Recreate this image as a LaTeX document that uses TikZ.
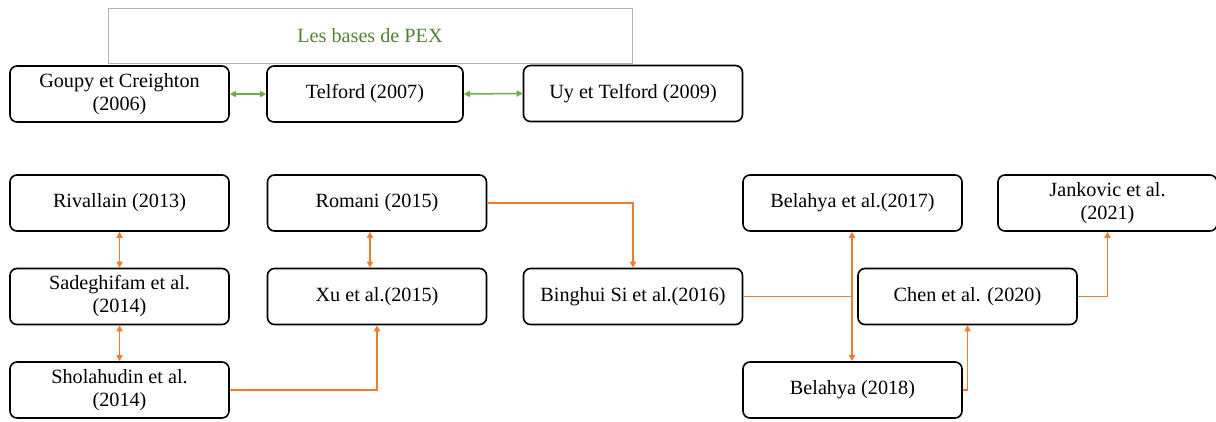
\documentclass[tikz,border=0pt]{standalone}
\usepackage{fontspec}
\setmainfont{Liberation Serif}
\usetikzlibrary{arrows.meta}
\definecolor{linkorange}{RGB}{237,125,49}
\definecolor{linkgreen}{RGB}{112,173,71}
\definecolor{titlegreen}{RGB}{84,130,53}
\begin{document}
\begin{tikzpicture}[x=1pt,y=-1pt,
  >={Triangle[width=6pt,length=6pt]},
  box/.style={draw=black, line width=1.6pt, rounded corners=7pt, fill=white,
    inner sep=0pt, align=center, font=\fontsize{20.2}{23}\selectfont},
  wide/.style={minimum width=219pt, minimum height=56pt},
  olink/.style={draw=linkorange, line width=1.5pt},
  glink/.style={draw=linkgreen, line width=1.5pt}]
\useasboundingbox (0,0) rectangle (1216,421);

% heading frame
\node[draw=black!30, line width=0.8pt, minimum width=524pt, minimum height=55pt,
  inner sep=0pt, text=titlegreen, font=\fontsize{20.2}{23}\selectfont] (head) at (370,35.5) {Les bases de PEX};

% first row
\node[box, wide] (goupy) at (119.5,94) {Goupy et Creighton\\(2006)};
\node[box, minimum width=196pt, minimum height=56pt] (telford) at (365,94) {Telford (2007)};
\node[box, wide] (uy) at (633,93.5) {Uy et Telford (2009)};

% left columns
\node[box, wide] (riv) at (119.5,203) {Rivallain (2013)};
\node[box, wide] (sad) at (119.5,296.5) {Sadeghifam et al.\\(2014)};
\node[box, wide] (sho) at (119.5,390) {Sholahudin et al.\\(2014)};
\node[box, wide] (rom) at (377,203) {Romani (2015)};
\node[box, wide] (xu) at (377,296.5) {Xu et al.(2015)};

% right part
\node[box, wide] (bing) at (633,296.5) {Binghui Si et al.(2016)};
\node[box, wide] (bel17) at (852.5,203) {Belahya et al.(2017)};
\node[box, wide] (jan) at (1107.5,203) {Jankovic et al.\\(2021)};
\node[box, wide] (chen) at (967.5,296.5) {Chen et al. (2020)};
\node[box, wide] (bel18) at (852.5,390) {Belahya (2018)};

% green links
\draw[glink, <->] (goupy.east) -- (telford.west);
\draw[glink, <->] (telford.east) -- (uy.west);

% orange links
\coordinate (romx) at (370,0);
\draw[olink, <->] (riv.south) -- (sad.north);
\draw[olink, <->] (sad.south) -- (sho.north);
\draw[olink, <->] (rom.south -| romx) -- (xu.north -| romx);
\draw[olink, ->] (sho.east) -| (xu.south);
\draw[olink, ->] (rom.east) -| (bing.north);
\coordinate (junc) at (852,296.5);
\draw[olink] (bing.east) -- (junc);
\draw[olink, <->] (bel17.south -| junc) -- (bel18.north -| junc);
\draw[olink, ->] (bel18.east) -| (chen.south);
\draw[olink, ->] (chen.east) -| (jan.south);
\end{tikzpicture}
\end{document}
